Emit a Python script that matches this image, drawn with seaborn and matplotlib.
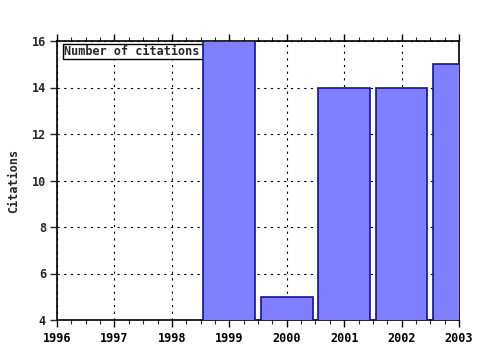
import matplotlib
matplotlib.use("Agg")
import matplotlib.pyplot as plt
import seaborn as sns
import pandas as pd
from matplotlib.ticker import MultipleLocator

years = [1999, 2000, 2001, 2002, 2003]
citations = [16, 5, 14, 14, 15]
x_ticks = [1996, 1997, 1998, 1999, 2000, 2001, 2002, 2003]
y_ticks = [4, 6, 8, 10, 12, 14, 16]
legend_label = "Number of citations"
y_label = "Citations"

sns.set_style("white")
plt.rcParams['font.family'] = ['DejaVu Sans Mono', 'DejaVu Sans']
plt.rcParams['font.weight'] = 'bold'

FS = 8.5

df = pd.DataFrame({"year": years, "citations": citations})

fig = plt.figure(figsize=(4.8, 3.5), dpi=100)
ax = fig.add_axes([57/480, 30/350, 402/480, 279/350])

sns.barplot(data=df, x="year", y="citations", native_scale=True, width=0.9,
            color="#8080ff", saturation=1, edgecolor="#1010a0", linewidth=1.2,
            ax=ax, zorder=3)
for p in ax.patches:
    p.set_facecolor("#8080ff")
    p.set_edgecolor("#1010a0")

ax.set_xlim(1996, 2003)
ax.set_ylim(4, 16)
ax.set_xticks(x_ticks)
ax.set_xticklabels([str(v) for v in x_ticks], fontsize=FS, fontweight='bold')
ax.set_yticks(y_ticks)
ax.set_yticklabels([str(v) for v in y_ticks], fontsize=FS, fontweight='bold')
ax.xaxis.set_minor_locator(MultipleLocator(0.25))
ax.set_xlabel("")
ax.set_ylabel(y_label, fontsize=FS, fontweight='bold', labelpad=8)

ax.grid(True, which='major', color='black', linestyle=(0, (2, 4)), linewidth=0.8, zorder=0)
ax.set_axisbelow(True)

ax.tick_params(axis='x', which='major', direction='out', length=5, width=1,
               top=True, bottom=True, pad=4, colors='black')
ax.tick_params(axis='x', which='minor', direction='out', length=3, width=0.8,
               top=True, bottom=True)
ax.tick_params(axis='y', which='major', direction='out', length=5, width=1,
               left=True, right=False, pad=3)

for s in ax.spines.values():
    s.set_visible(True)
    s.set_color('black')
    s.set_linewidth(1.2)

ax.text(1996.13, 15.83, legend_label + "     ", fontsize=FS, fontweight='bold', va='top', ha='left',
        bbox=dict(boxstyle='square,pad=0.12', facecolor='white', edgecolor='black', linewidth=1),
        zorder=2)

fig.savefig("out.png", dpi=100)
